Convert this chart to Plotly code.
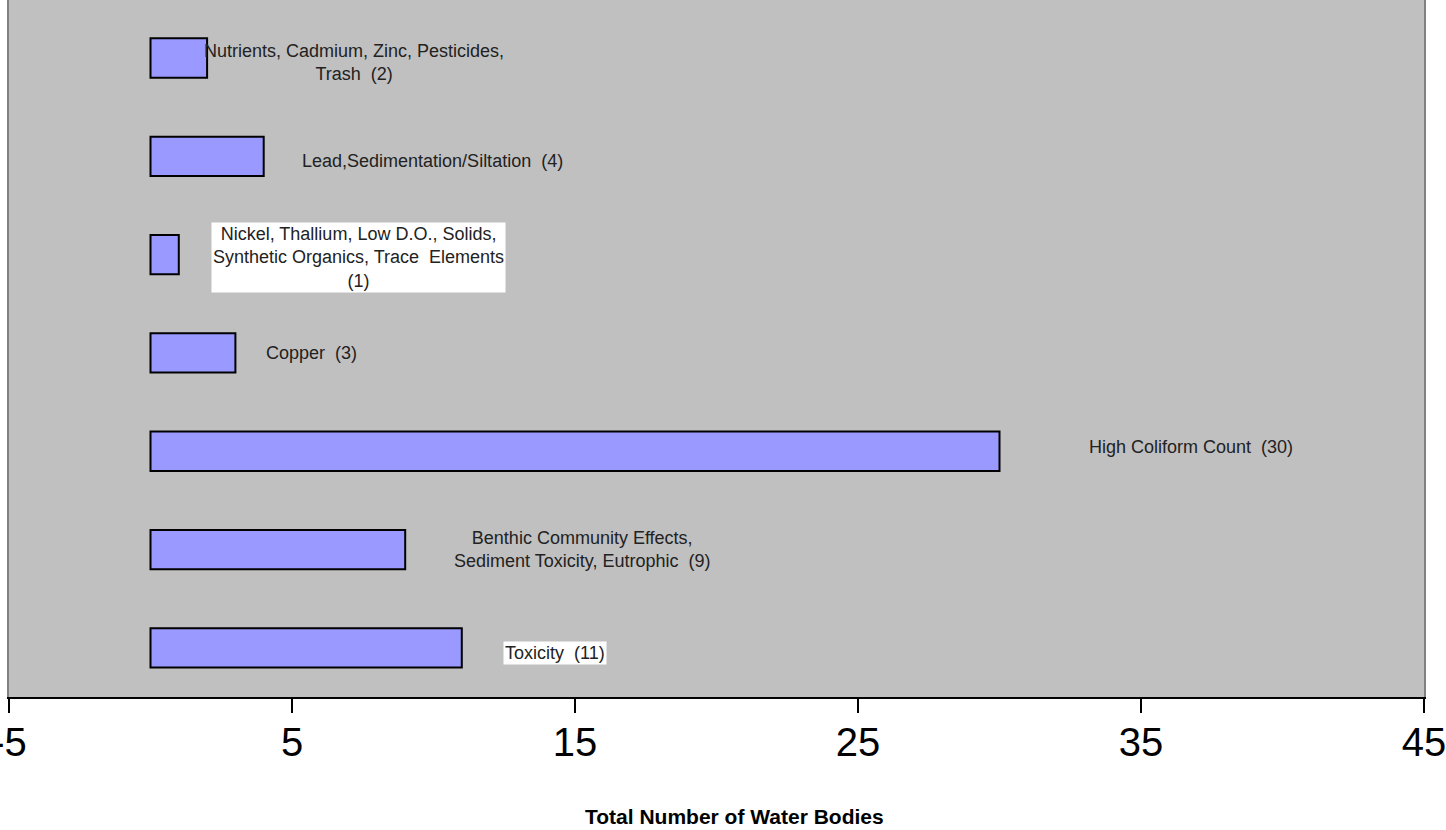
import plotly.graph_objects as go

# Data (bottom to top)
categories = ["Toxicity", "Benthic Community Effects, Sediment Toxicity, Eutrophic",
              "High Coliform Count", "Copper",
              "Nickel, Thallium, Low D.O., Solids, Synthetic Organics, Trace Elements",
              "Lead,Sedimentation/Siltation", "Nutrients, Cadmium, Zinc, Pesticides, Trash"]
values = [11, 9, 30, 3, 1, 4, 2]
label_texts = [
    "Toxicity &nbsp;(11)",
    "Benthic Community Effects,<br>Sediment Toxicity, Eutrophic &nbsp;(9)",
    "High Coliform Count &nbsp;(30)",
    "Copper &nbsp;(3)",
    "Nickel, Thallium, Low D.O., Solids,<br>Synthetic Organics, Trace &nbsp;Elements<br>(1)",
    "Lead,Sedimentation/Siltation &nbsp;(4)",
    "Nutrients, Cadmium, Zinc, Pesticides,<br>Trash &nbsp;(2)",
]
label_x = [14.3, 15.25, 36.75, 5.68, 7.35, 9.95, 7.18]
label_dy = [-0.05, 0.0, 0.04, 0.0, -0.03, -0.05, -0.05]
label_bg = [True, False, False, False, True, False, False]

tick_vals = [-5, 5, 15, 25, 35, 45]
tick_text = ["-5", "5", "15", "25", "35", "45"]
x_title = "Total Number of Water Bodies"

ypos = list(range(len(values)))

fig = go.Figure()
fig.add_trace(go.Bar(
    x=values, y=ypos, orientation="h", width=0.4,
    marker=dict(color="#9999FF", line=dict(color="black", width=2)),
    hovertext=categories, showlegend=False,
))

for t, lx, dy, yy, bg in zip(label_texts, label_x, label_dy, ypos, label_bg):
    fig.add_annotation(
        x=lx, y=yy + dy, text=t, showarrow=False,
        xanchor="center", yanchor="middle", align="center",
        font=dict(family="Arial, Liberation Sans, sans-serif", size=18, color="#222222"),
        bgcolor="white" if bg else "rgba(0,0,0,0)", borderpad=1,
    )

# axis title, placed as in the reference (slightly right of plot centre)
fig.add_annotation(
    xref="paper", yref="paper", x=0.513, y=-0.172, text="<b>" + x_title + "</b>",
    showarrow=False, xanchor="center", yanchor="middle",
    font=dict(family="Arial, Liberation Sans, sans-serif", size=21, color="black"),
)

fig.update_layout(
    width=1446, height=830,
    margin=dict(l=9, r=22, t=0, b=133, autoexpand=False),
    paper_bgcolor="white", plot_bgcolor="#C0C0C0",
    font=dict(family="Arial, Liberation Sans, sans-serif", color="black"),
)
fig.update_xaxes(
    range=[-5, 45], tickvals=tick_vals, ticktext=tick_text, showgrid=False, zeroline=False,
    showline=True, linecolor="black", linewidth=2, automargin=False,
    ticks="outside", ticklen=14, tickwidth=2, tickcolor="black",
    tickfont=dict(size=40, color="black"), ticklabeloverflow="allow",
    ticklabelstandoff=-5,
)
fig.update_yaxes(
    range=[-0.5, 6.59], showticklabels=False, showgrid=False, zeroline=False,
    showline=True, linecolor="#808080", linewidth=2, mirror=True, ticks="", automargin=False,
)

fig.write_html("out.html")
